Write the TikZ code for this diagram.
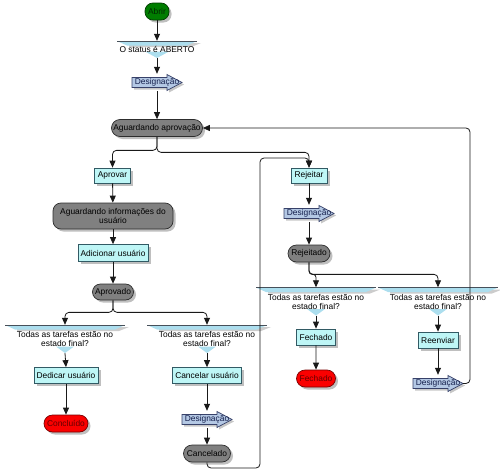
\documentclass[tikz,border=0pt]{standalone}
\usepackage{fontspec}
\setmainfont{Liberation Sans}
\usetikzlibrary{shapes.misc,arrows.meta,shadows,backgrounds}
\definecolor{procfill}{RGB}{190,246,246}
\definecolor{procdraw}{RGB}{50,90,100}
\definecolor{statefill}{RGB}{128,128,128}
\definecolor{statedraw}{RGB}{45,45,45}
\definecolor{redfill}{RGB}{250,0,0}
\definecolor{reddraw}{RGB}{120,0,0}
\definecolor{redtext}{RGB}{100,0,0}
\definecolor{greenfill}{RGB}{0,125,0}
\definecolor{greendraw}{RGB}{0,60,0}
\definecolor{desfill}{RGB}{180,200,228}
\definecolor{desdraw}{RGB}{55,65,105}
\definecolor{destext}{RGB}{20,30,75}
\definecolor{decfill}{RGB}{172,222,238}
\definecolor{decdraw}{RGB}{70,80,90}
\definecolor{linecol}{RGB}{25,25,25}
% arrow-shaped "Designacao" symbol drawn behind node #1
\newcommand\desshape[1]{%
  \fill[black,opacity=0.22] ([shift={(-23,-3)}]#1.center) -- ([shift={(12,-3)}]#1.center) -- ([shift={(12,-6)}]#1.center) -- ([shift={(27,2)}]#1.center) -- ([shift={(12,10)}]#1.center) -- ([shift={(12,7)}]#1.center) -- ([shift={(-23,7)}]#1.center) -- cycle;
  \filldraw[fill=desfill,draw=desdraw,line width=0.7pt] ([shift={(-25,-5)}]#1.center) -- ([shift={(10,-5)}]#1.center) -- ([shift={(10,-8)}]#1.center) -- ([shift={(25,0)}]#1.center) -- ([shift={(10,8)}]#1.center) -- ([shift={(10,5)}]#1.center) -- ([shift={(-25,5)}]#1.center) -- cycle;}
% decision symbol: #1 node, #2 half width, #3 half height, #4 half width of triangle
\newcommand\decshape[4]{%
  \fill[black,opacity=0.2] ([shift={(-#2+12,-#3+2)}]#1.center) -- ([shift={(#2+4,-#3+2)}]#1.center) -- ([shift={(#2-6,-#3+6)}]#1.center) -- ([shift={(-#2+12,-#3+6)}]#1.center) -- cycle;
  \fill[decfill] ([shift={(-#2,-#3)}]#1.center) -- ([shift={(#2,-#3)}]#1.center) -- ([shift={(#2-10,-#3+4.5)}]#1.center) -- ([shift={(-#2+10,-#3+4.5)}]#1.center) -- cycle;
  \draw[decdraw,line width=0.7pt] ([shift={(-#2,-#3)}]#1.center) -- ([shift={(#2,-#3)}]#1.center);
  \fill[decfill] ([shift={(-#4,#3-6.5)}]#1.center) -- ([shift={(#4,#3-6.5)}]#1.center) -- ([shift={(0,#3)}]#1.center) -- cycle;}
\begin{document}
\begin{tikzpicture}[x=1pt,y=-1pt,font=\fontsize{8.4}{9}\selectfont,
  shad/.style={drop shadow={shadow xshift=2.5pt,shadow yshift=-2.5pt,fill=black,opacity=0.25}},
  proc/.style={rectangle,draw=procdraw,fill=procfill,line width=0.7pt,inner sep=0pt,minimum height=16pt,shad},
  state/.style={rounded rectangle,draw=statedraw,fill=statefill,line width=0.7pt,inner sep=0pt,minimum height=17pt,shad},
  statebox/.style={rectangle,rounded corners=8pt,draw=statedraw,fill=statefill,line width=0.7pt,inner sep=0pt,align=center,shad},
  endst/.style={rounded rectangle,draw=reddraw,fill=redfill,text=redtext,line width=0.7pt,inner sep=0pt,minimum height=17pt,shad},
  startst/.style={rectangle,rounded corners=8pt,draw=greendraw,fill=greenfill,text=black!85!green,line width=0.7pt,inner sep=0pt,shad},
  desig/.style={rectangle,inner sep=0pt,minimum width=50pt,minimum height=17pt,text=destext},
  decis/.style={rectangle,inner sep=0pt,align=center},
  conn/.style={draw=linecol,line width=0.8pt,rounded corners=4pt,-{Triangle[length=7pt,width=6pt]}}
]
\useasboundingbox (0,0) rectangle (500,471);
% nodes
\node[startst,minimum width=24pt,minimum height=17pt] (abrir) at (157,11.5) {Abrir};
\node[decis,minimum width=80pt,minimum height=17pt] (q0) at (157,49.5) {O status é ABERTO};
\node[desig] (d0) at (157,82.5) {Designação};
\node[state,minimum width=91pt] (ag) at (157,128) {Aguardando aprovação};
\node[proc,minimum width=36pt,minimum height=15pt] (apr) at (112.5,175.5) {Aprovar};
\node[statebox,minimum width=120pt,minimum height=26pt] (agi) at (113,216) {Aguardando informações do\\usuário};
\node[proc,minimum width=70pt,minimum height=17pt] (adi) at (113,253) {Adicionar usuário};
\node[state,minimum width=41pt,minimum height=16pt] (aprd) at (113,292) {Aprovado};
\node[decis,minimum width=120pt,minimum height=28pt] (q1) at (65,339) {Todas as tarefas estão no\\estado final?};
\node[decis,minimum width=120pt,minimum height=28pt] (q2) at (207,339) {Todas as tarefas estão no\\estado final?};
\node[proc,minimum width=64pt] (ded) at (66,375.5) {Dedicar usuário};
\node[endst,minimum width=44pt] (conc) at (66,423.5) {Concluído};
\node[proc,minimum width=69pt] (canu) at (207,375.5) {Cancelar usuário};
\node[desig] (d2) at (207,419.5) {Designação};
\node[state,minimum width=47pt] (canc) at (207,453.5) {Cancelado};
\node[proc,minimum width=36pt,minimum height=15pt] (rej) at (309,175.5) {Rejeitar};
\node[desig] (d1) at (309,213.5) {Designação};
\node[state,minimum width=42pt] (rejd) at (309,253.5) {Rejeitado};
\node[decis,minimum width=120pt,minimum height=28pt] (q3) at (316,301.5) {Todas as tarefas estão no\\estado final?};
\node[decis,minimum width=120pt,minimum height=28pt] (q4) at (438,301.5) {Todas as tarefas estão no\\estado final?};
\node[proc,minimum width=39pt] (fech) at (316,337) {Fechado};
\node[endst,minimum width=39pt] (fechr) at (316,378.5) {Fechado};
\node[proc,minimum width=40pt] (reen) at (438,340) {Reenviar};
\node[desig] (d4) at (438,383.5) {Designação};
\coordinate (lb) at (260,468);
\coordinate (lt) at (260,158);
\coordinate (rt) at (470,128);
% symbol shapes behind texts
\begin{scope}[on background layer]
  \decshape{q0}{40}{8.5}{12}
  \decshape{q1}{60}{14}{9}
  \decshape{q2}{60}{14}{9}
  \decshape{q3}{60}{14}{9}
  \decshape{q4}{60}{14}{9}
  \desshape{d0}
  \desshape{d1}
  \desshape{d2}
  \desshape{d4}
\end{scope}
% connectors
\draw[conn] (abrir) -- (q0);
\draw[conn] (q0.south) -- (d0.north);
\draw[conn] (d0.south) -- (ag.north);
\draw[conn] (ag.south) -- ++(0,13.5) -| (apr.north);
\draw[conn] (ag.south) -- ++(0,15.5) -| (rej.north);
\draw[conn] (apr) -- (agi);
\draw[conn] (agi) -- (adi);
\draw[conn] (adi) -- (aprd);
\draw[conn] (aprd.south) -- ++(0,12) -| (q1.north);
\draw[conn] (aprd.south) -- ++(0,12) -| (q2.north);
\draw[conn] (q1.south) -- (ded.north);
\draw[conn] (ded) -- (conc);
\draw[conn] (q2.south) -- (canu.north);
\draw[conn] (canu.south) -- (d2.north);
\draw[conn] (d2.south) -- (canc.north);
\draw[conn] (canc.south) |- (lb) -- (lt) -| (rej.north);
\draw[conn] (rej.south) -- (d1.north);
\draw[conn] (d1.south) -- (rejd.north);
\draw[conn,rounded corners=3pt] (rejd.south) -- ++(0,12) -| (q3.north);
\draw[conn] (rejd.south) -- ++(0,12) -| (q4.north);
\draw[conn] (q3.south) -- (fech.north);
\draw[conn] (fech) -- (fechr);
\draw[conn] (q4.south) -- (reen.north);
\draw[conn] (reen.south) -- (d4.north);
\draw[conn] (d4.east) -| (rt) -- (ag.east);
\end{tikzpicture}
\end{document}
